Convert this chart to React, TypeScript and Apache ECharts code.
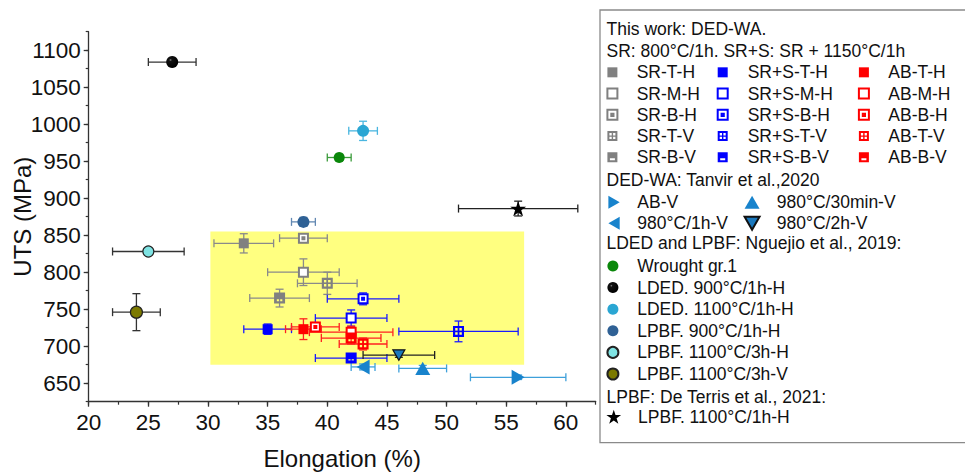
import React, { useEffect, useRef } from 'react';
import * as echarts from 'echarts';

const FONT = '"Liberation Sans", Arial, Helvetica, sans-serif';

// ---- axes ----
const X_TICKS = [20, 25, 30, 35, 40, 45, 50, 55, 60];
const Y_TICKS = [650, 700, 750, 800, 850, 900, 950, 1000, 1050, 1100];
const X_RANGE = [20, 62.5];
const Y_RANGE = [625, 1125];
const HIGHLIGHT_X = [30.2, 56.5];
const HIGHLIGHT_Y = [675, 855];

// ---- This work: DED-WA ----
const SR_NAMES = ['SR-T-H', 'SR-M-H', 'SR-B-H', 'SR-T-V', 'SR-B-V'];
const SR_ELONG = [33, 38, 38, 40, 36];
const SR_ELONG_ERR = [2.5, 3, 2, 2.5, 2.5];
const SR_UTS = [839, 800, 846, 785, 765];
const SR_UTS_ERR = [13, 18, 6, 15, 12];

const SRS_NAMES = ['SR+S-T-H', 'SR+S-M-H', 'SR+S-B-H', 'SR+S-T-V', 'SR+S-B-V'];
const SRS_ELONG = [35, 42, 43, 51, 42];
const SRS_ELONG_ERR = [2, 3, 3, 5, 3];
const SRS_UTS = [723, 738, 764, 720, 684];
const SRS_UTS_ERR = [7, 11, 8, 14, 4];

const AB_NAMES = ['AB-T-H', 'AB-M-H', 'AB-B-H', 'AB-T-V', 'AB-B-V'];
const AB_ELONG = [38, 42, 39, 43, 42];
const AB_ELONG_ERR = [1.5, 3.5, 2, 2, 2.5];
const AB_UTS = [723, 719, 726, 703, 711];
const AB_UTS_ERR = [14, 8, 6, 8, 8];

// ---- DED-WA: Tanvir et al., 2020 ----
const TANVIR_NAMES = ['AB-V', '980°C/30min-V', '980°C/1h-V', '980°C/2h-V'];
const TANVIR_ELONG = [56, 48, 43, 46];
const TANVIR_ELONG_ERR = [4, 2, 1, 3];
const TANVIR_UTS = [658, 670, 672, 688];
const TANVIR_UTS_ERR = [3, 4, 4, 3];

// ---- LDED and LPBF: Nguejio et al., 2019 ----
const NGUEJIO_NAMES = ['Wrought gr.1', 'LDED. 900°C/1h-H', 'LDED. 1100°C/1h-H', 'LPBF. 900°C/1h-H', 'LPBF. 1100°C/3h-H', 'LPBF. 1100°C/3h-V'];
const NGUEJIO_ELONG = [41, 27, 43, 38, 25, 24];
const NGUEJIO_ELONG_ERR = [1, 2, 1.2, 1, 3, 2];
const NGUEJIO_UTS = [955, 1084, 991, 868, 828, 746];
const NGUEJIO_UTS_ERR = [4, 3, 13, 6, 3, 25];

// ---- LPBF: De Terris et al., 2021 ----
const TERRIS_NAMES = ['LPBF. 1100°C/1h-H'];
const TERRIS_ELONG = [56];
const TERRIS_ELONG_ERR = [5];
const TERRIS_UTS = [886];
const TERRIS_UTS_ERR = [10];

// ---- symbols ----
const SQ = 'path://M0 0L10 0L10 10L0 10Z';
const SQ_DOT = 'path://M0 0L10 0L10 10L0 10Z M3.9 3.9L6.1 3.9L6.1 6.1L3.9 6.1Z';
const SQ_GRID = 'path://M0 0L10 0L10 10L0 10Z M2 2L2 4.3L4.3 4.3L4.3 2Z M5.7 2L5.7 4.3L8 4.3L8 2Z M2 5.7L2 8L4.3 8L4.3 5.7Z M5.7 5.7L5.7 8L8 8L8 5.7Z';
const SQ_BAR = 'path://M0 0L10 0L10 10L0 10Z M2.5 6L2.5 7.8L7.5 7.8L7.5 6Z';
const TRI_R = 'path://M0 0L8.7 5L0 10Z';
const TRI_L = 'path://M8.7 0L0 5L8.7 10Z';
const TRI_U = 'path://M5 0L10 8.7L0 8.7Z';
const TRI_D = 'path://M0 0L10 0L5 8.7Z';
const STAR = 'path://M50 0L61.23 34.55L97.55 34.55L68.17 55.9L79.39 90.45L50 69.1L20.61 90.45L31.83 55.9L2.45 34.55L38.77 34.55Z';

const VARIANTS = ['filled', 'hollow', 'dot', 'grid', 'bar'];

function variantMarker(kind: string, color: string) {
  switch (kind) {
    case 'filled':
      return { symbol: SQ, size: 10, itemStyle: { color } };
    case 'hollow':
      return { symbol: SQ, size: 9, itemStyle: { color: '#fff', borderColor: color, borderWidth: 2 } };
    case 'dot':
      return { symbol: SQ_DOT, size: 9, itemStyle: { color: '#fff', borderColor: color, borderWidth: 2 } };
    case 'grid':
      return { symbol: SQ_GRID, size: 11, itemStyle: { color } };
    default:
      return { symbol: SQ_BAR, size: 11, itemStyle: { color } };
  }
}

const TANVIR_BLUE = '#1883cc';
const TANVIR_MK = [
  { symbol: TRI_R, size: 15, itemStyle: { color: TANVIR_BLUE }, bar: '#3ea0da' },
  { symbol: TRI_U, size: 15, itemStyle: { color: TANVIR_BLUE }, bar: '#3ea0da' },
  { symbol: TRI_L, size: 15, itemStyle: { color: TANVIR_BLUE }, bar: '#3ea0da' },
  { symbol: TRI_D, size: 12, itemStyle: { color: '#1a78bd', borderColor: '#111', borderWidth: 1.2 }, bar: '#222' },
];

const sphere = new echarts.graphic.RadialGradient(0.36, 0.33, 0.65, [
  { offset: 0, color: '#8a8a8a' },
  { offset: 0.18, color: '#111' },
  { offset: 1, color: '#000' },
]);

const NGUEJIO_MK = [
  { symbol: 'circle', size: 11, itemStyle: { color: '#0a870a' }, bar: '#3b9b3b' },
  { symbol: 'circle', size: 12, itemStyle: { color: sphere }, bar: '#333' },
  { symbol: 'circle', size: 12, itemStyle: { color: '#2aa6d3' }, bar: '#4ab6e0' },
  { symbol: 'circle', size: 12, itemStyle: { color: '#2f6195' }, bar: '#6288b2' },
  { symbol: 'circle', size: 11, itemStyle: { color: '#7fe3e3', borderColor: '#222', borderWidth: 1.2 }, bar: '#333' },
  { symbol: 'circle', size: 12, itemStyle: { color: '#7c7a00', borderColor: '#222', borderWidth: 1.2 }, bar: '#333' },
];

const TERRIS_MK = [{ symbol: STAR, size: 16, itemStyle: { color: '#000' }, bar: '#222' }];

function errorSeries(name: string, x: number, y: number, xe: number, ye: number, color: string) {
  return {
    type: 'custom',
    name: name + ' (err)',
    silent: true,
    z: 2,
    clip: false,
    data: [[x, y, xe, ye]],
    encode: { x: 0, y: 1 },
    renderItem: (_p: any, api: any) => {
      const vx = api.value(0);
      const vy = api.value(1);
      const ex = api.value(2);
      const ey = api.value(3);
      const l = api.coord([vx - ex, vy]);
      const r = api.coord([vx + ex, vy]);
      const t = api.coord([vx, vy + ey]);
      const b = api.coord([vx, vy - ey]);
      const cap = 4;
      const style = { stroke: color, lineWidth: 1.3 };
      const ln = (x1: number, y1: number, x2: number, y2: number) => ({ type: 'line', shape: { x1, y1, x2, y2 }, style });
      return {
        type: 'group',
        children: [
          ln(l[0], l[1], r[0], r[1]),
          ln(l[0], l[1] - cap, l[0], l[1] + cap),
          ln(r[0], r[1] - cap, r[0], r[1] + cap),
          ln(t[0], t[1], b[0], b[1]),
          ln(t[0] - cap, t[1], t[0] + cap, t[1]),
          ln(b[0] - cap, b[1], b[0] + cap, b[1]),
        ],
      };
    },
  };
}

function pointSeries(name: string, x: number, y: number, mk: any) {
  return {
    type: 'scatter',
    name,
    z: 3,
    data: [[x, y]],
    symbol: mk.symbol,
    symbolSize: mk.size,
    symbolKeepAspect: true,
    itemStyle: { opacity: 1, ...mk.itemStyle },
    emphasis: { disabled: true },
  };
}

function buildGroup(names: string[], xs: number[], xes: number[], ys: number[], yes: number[], mkFor: (i: number) => any, barFor: (i: number) => string) {
  const errs: any[] = [];
  const pts: any[] = [];
  names.forEach((n, i) => {
    errs.push(errorSeries(n, xs[i], ys[i], xes[i], yes[i], barFor(i)));
    pts.push(pointSeries(n, xs[i], ys[i], mkFor(i)));
  });
  return { errs, pts };
}

function legendCol(names: string[], cx: number, tx: number, top: number, rowH: number, iconH: number) {
  const W = 2 * (tx - 5 - cx);
  return {
    orient: 'vertical',
    left: cx - W / 2,
    top,
    padding: 0,
    itemGap: 0,
    itemWidth: W,
    itemHeight: iconH,
    symbolKeepAspect: true,
    selectedMode: false,
    data: names,
    textStyle: { fontSize: 17.5, fontFamily: FONT, color: '#111', lineHeight: rowH },
  };
}

function header(text: string, y: number) {
  return {
    type: 'text',
    x: 606.5,
    y,
    silent: true,
    style: { text, fontSize: 17.5, fontFamily: FONT, fill: '#111', verticalAlign: 'middle' },
  };
}

export default function App() {
  const ref = useRef<HTMLDivElement>(null);

  useEffect(() => {
    if (!ref.current) return;
    const chart = echarts.init(ref.current, null, { renderer: 'svg' });

    const groups = [
      buildGroup(SR_NAMES, SR_ELONG, SR_ELONG_ERR, SR_UTS, SR_UTS_ERR, (i) => variantMarker(VARIANTS[i], '#808080'), () => '#8a8a8a'),
      buildGroup(SRS_NAMES, SRS_ELONG, SRS_ELONG_ERR, SRS_UTS, SRS_UTS_ERR, (i) => variantMarker(VARIANTS[i], '#0000ff'), () => '#1a1aff'),
      buildGroup(AB_NAMES, AB_ELONG, AB_ELONG_ERR, AB_UTS, AB_UTS_ERR, (i) => variantMarker(VARIANTS[i], '#ff0000'), () => '#ff2020'),
      buildGroup(TANVIR_NAMES, TANVIR_ELONG, TANVIR_ELONG_ERR, TANVIR_UTS, TANVIR_UTS_ERR, (i) => TANVIR_MK[i], (i) => TANVIR_MK[i].bar),
      buildGroup(NGUEJIO_NAMES, NGUEJIO_ELONG, NGUEJIO_ELONG_ERR, NGUEJIO_UTS, NGUEJIO_UTS_ERR, (i) => NGUEJIO_MK[i], (i) => NGUEJIO_MK[i].bar),
      buildGroup(TERRIS_NAMES, TERRIS_ELONG, TERRIS_ELONG_ERR, TERRIS_UTS, TERRIS_UTS_ERR, (i) => TERRIS_MK[i], (i) => TERRIS_MK[i].bar),
    ];

    const highlight = {
      type: 'scatter',
      name: 'highlight',
      z: 1,
      silent: true,
      symbolSize: 0,
      data: [[HIGHLIGHT_X[0], HIGHLIGHT_Y[1]]],
      markArea: {
        silent: true,
        itemStyle: { color: '#ffff80', opacity: 1 },
        data: [[{ xAxis: HIGHLIGHT_X[0], yAxis: HIGHLIGHT_Y[1] }, { xAxis: HIGHLIGHT_X[1], yAxis: HIGHLIGHT_Y[0] }]],
      },
    };

    const series: any[] = [highlight];
    groups.forEach((g) => series.push(...g.errs));
    groups.forEach((g) => series.push(...g.pts));

    const axisColor = '#333';
    const labelStyle = { fontSize: 22.5, fontFamily: FONT, color: '#111' };

    chart.setOption({
      animation: false,
      backgroundColor: '#fff',
      textStyle: { fontFamily: FONT },
      grid: { left: 88.7, right: 369.3, top: 31.7, bottom: 71.3, containLabel: false, outerBoundsMode: 'none' },
      xAxis: [
        {
          type: 'value',
          min: X_RANGE[0],
          max: X_RANGE[1],
          interval: 5,
          position: 'bottom',
          name: 'Elongation (%)',
          nameLocation: 'middle',
          nameGap: 45,
          nameTextStyle: { fontSize: 24, fontFamily: FONT, color: '#111' },
          axisLine: { show: true, onZero: false, lineStyle: { color: axisColor, width: 1.3 } },
          axisTick: { show: true, length: 5, customValues: X_TICKS, lineStyle: { color: axisColor, width: 1.3 } },
          axisLabel: {
            ...labelStyle,
            margin: 9,
            customValues: X_TICKS,
            formatter: (v: number) => (X_TICKS.indexOf(v) >= 0 ? String(v) : ''),
          },
          splitLine: { show: false },
        },
        {
          type: 'value',
          min: X_RANGE[0],
          max: X_RANGE[1],
          interval: 2.5,
          position: 'bottom',
          axisLine: { show: false, onZero: false },
          axisTick: { show: true, length: 3, lineStyle: { color: axisColor, width: 1.2 } },
          axisLabel: { show: false },
          splitLine: { show: false },
        },
      ],
      yAxis: [
        {
          type: 'value',
          min: Y_RANGE[0],
          max: Y_RANGE[1],
          interval: 25,
          position: 'left',
          name: 'UTS (MPa)',
          nameLocation: 'middle',
          nameGap: 54,
          nameMoveOverlap: false,
          nameTextStyle: { fontSize: 24, fontFamily: FONT, color: '#111' },
          axisLine: { show: true, onZero: false, lineStyle: { color: axisColor, width: 1.3 } },
          axisTick: { show: true, length: 5, customValues: Y_TICKS, lineStyle: { color: axisColor, width: 1.3 } },
          axisLabel: {
            ...labelStyle,
            margin: 8,
            customValues: Y_TICKS,
            formatter: (v: number) => (Y_TICKS.indexOf(v) >= 0 ? String(v) : ''),
          },
          splitLine: { show: false },
        },
        {
          type: 'value',
          min: Y_RANGE[0],
          max: Y_RANGE[1],
          interval: 25,
          position: 'left',
          axisLine: { show: false, onZero: false },
          axisTick: { show: true, length: 3, lineStyle: { color: axisColor, width: 1.2 } },
          axisLabel: { show: false },
          splitLine: { show: false },
        },
      ],
      legend: [
        legendCol(SR_NAMES, 625.7, 650, 61.7, 21.25, 10),
        legendCol(SRS_NAMES, 736.7, 761.7, 61.7, 21.25, 10),
        legendCol(AB_NAMES, 877.3, 901.7, 61.7, 21.25, 10),
        legendCol([TANVIR_NAMES[0], TANVIR_NAMES[2]], 626.7, 650, 191.8, 21, 13),
        legendCol([TANVIR_NAMES[1], TANVIR_NAMES[3]], 763.3, 788, 191.8, 21, 13),
        legendCol(NGUEJIO_NAMES, 625.7, 650, 255.2, 21.6, 11),
        legendCol(TERRIS_NAMES, 625.7, 650, 405.9, 21.6, 14),
      ],
      graphic: [
        {
          type: 'rect',
          silent: true,
          z: -1,
          shape: { x: 600, y: 10, width: 430, height: 432.7 },
          style: { fill: 'none', stroke: '#8a8a8a', lineWidth: 1.3 },
        },
        header('This work: DED-WA.', 29),
        header('SR: 800°C/1h. SR+S: SR + 1150°C/1h', 50.7),
        header('DED-WA: Tanvir et al.,2020', 180),
        header('LDED and LPBF: Nguejio et al., 2019:', 242.5),
        header('LPBF: De Terris et al., 2021:', 396.7),
      ],
      series,
    });

    return () => {
      chart.dispose();
    };
  }, []);

  return (
    <div
      ref={ref}
      style={{ position: 'fixed', left: 0, top: 0, width: 965, height: 473, background: '#fff' }}
    />
  );
}
